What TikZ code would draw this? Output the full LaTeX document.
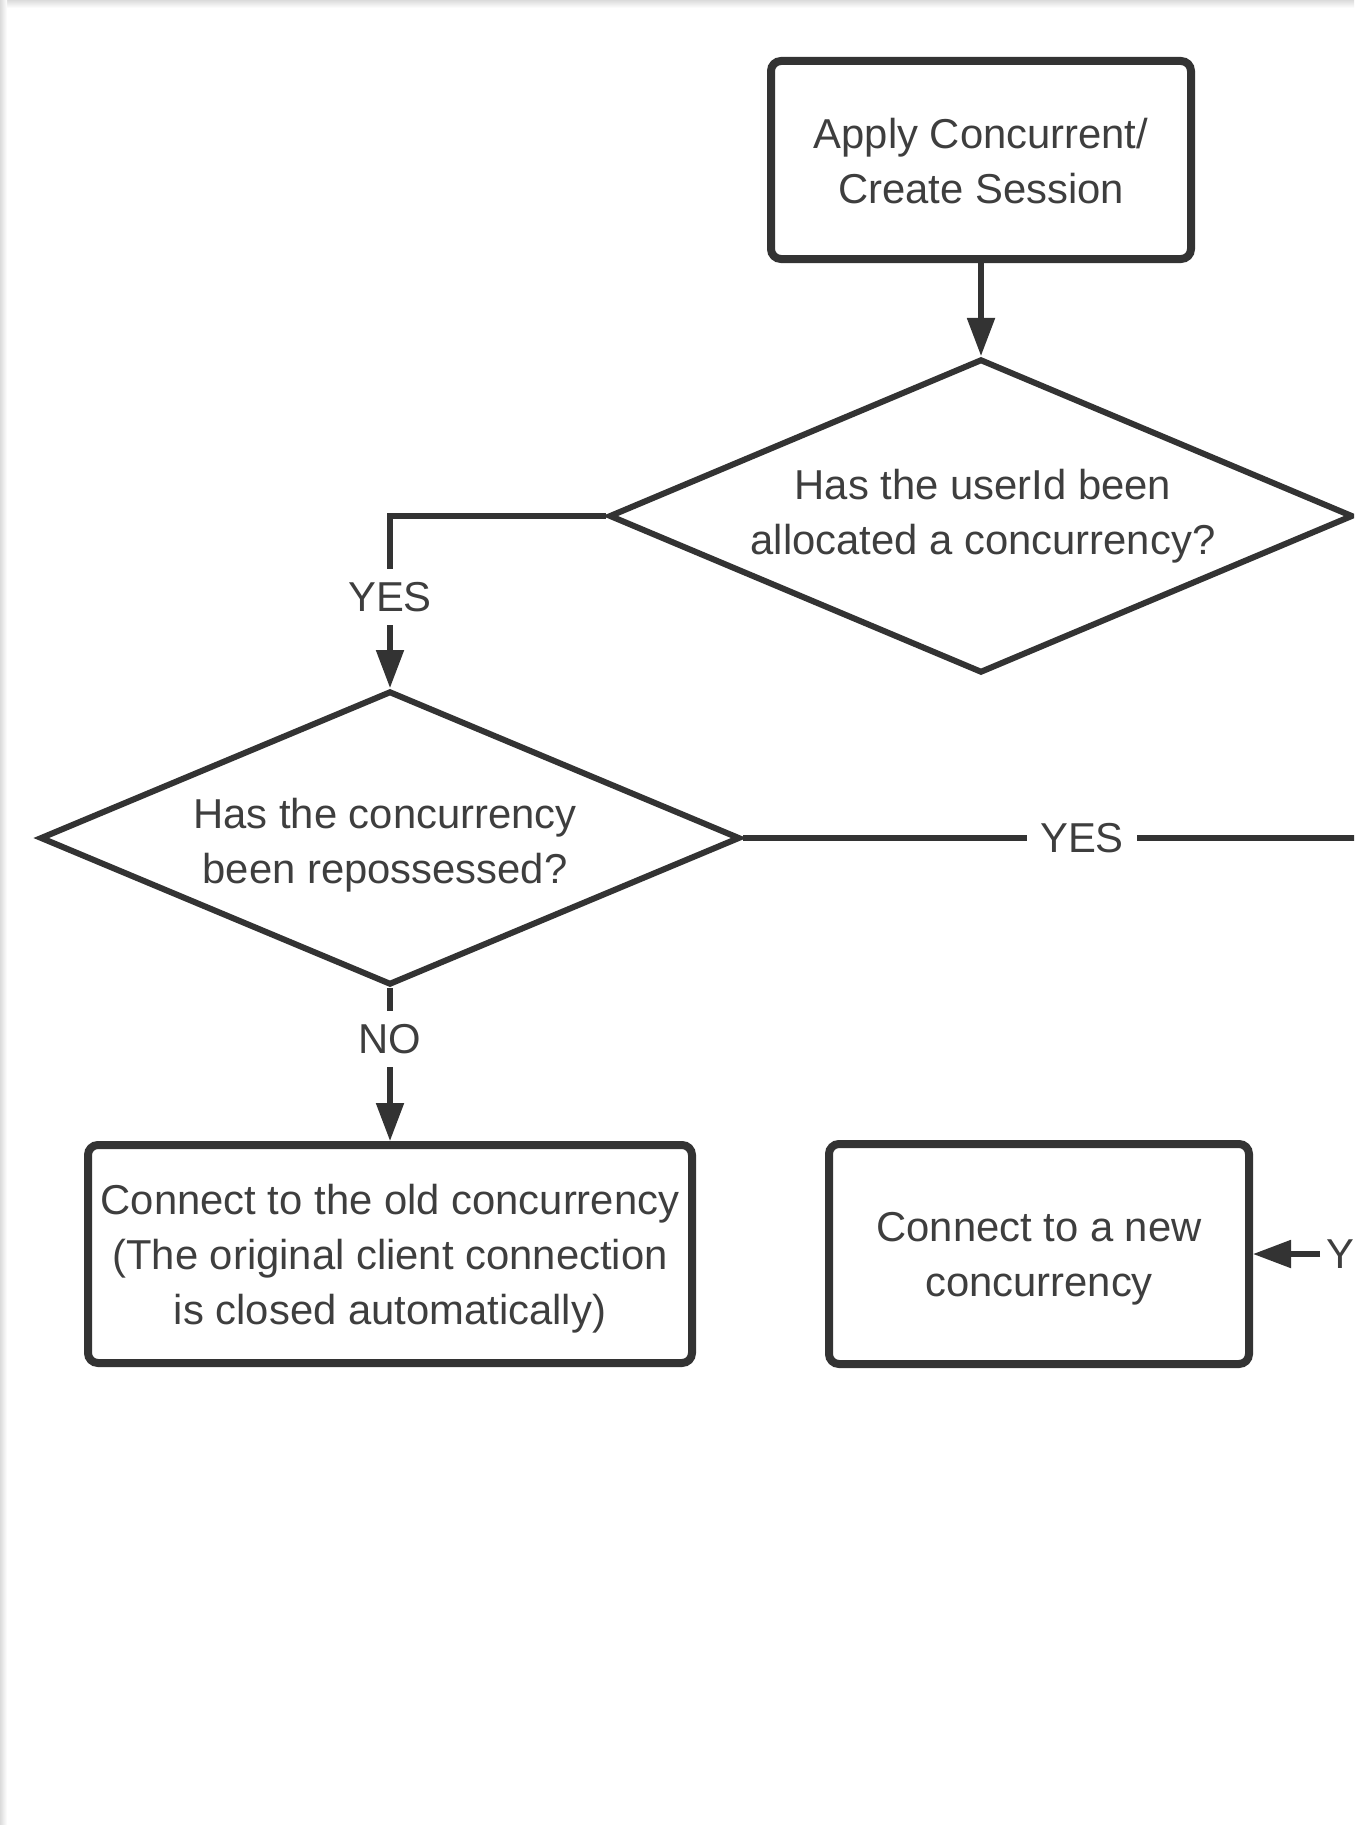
\documentclass[tikz,border=0pt]{standalone}
\usepackage{fontspec}
\setmainfont{Liberation Sans}
\usetikzlibrary{shapes.geometric,arrows.meta}
\definecolor{ln}{HTML}{333333}
\definecolor{tx}{HTML}{3E3E3E}
\newcommand\flowfont{\fontsize{20.9}{27.5}\selectfont}
\begin{document}
\begin{tikzpicture}[x=0.5pt,y=-0.5pt,
  procbox/.style={draw=ln, line width=4pt, rounded corners=5pt, inner sep=0pt},
  decision/.style={draw=ln, line width=3pt, diamond, inner sep=0pt},
  txt/.style={align=center, text=tx, font=\flowfont, inner sep=0pt},
  conn/.style={draw=ln, line width=2.6pt},
  arr/.style={conn, -{Triangle[length=19pt,width=13.5pt]}},
  lbl/.style={fill=white, text=tx, font=\flowfont, inner sep=6.5pt}]
\useasboundingbox (0,0) rectangle (1369,1825);
\fill[white] (0,0) rectangle (1369,1825);
\shade[top color=black!14, bottom color=white] (0,0) rectangle (1354,8);
\shade[left color=black!14, right color=white] (0,0) rectangle (7,1825);
\begin{scope}
\clip (7,8) rectangle (1354,1825);
\node[procbox, minimum width=210pt, minimum height=99pt] (b1) at (981,160) {};
\node[txt] (b1t) at ([yshift=-0.5pt]b1.center) {Apply Concurrent/\\Create Session};
\node[decision, minimum width=372pt, minimum height=157pt] (d1) at (981,516) {};
\node[txt] (d1t) at ([xshift=1pt]d1.center) {Has the userId been\\allocated a concurrency?};
\node[decision, minimum width=350pt, minimum height=147pt] (d2) at (390,838) {};
\node[txt] (d2t) at ([xshift=-2.5pt,yshift=-3.5pt]d2.center) {Has the concurrency\\been repossessed?};
\node[procbox, minimum width=302pt, minimum height=109pt] (b2) at (390,1254) {};
\node[txt] (b2t) at ([yshift=-2.5pt]b2.center) {Connect to the old concurrency\\(The original client connection\\is closed automatically)};
\node[procbox, minimum width=210pt, minimum height=110pt] (b3) at (1039,1254) {};
\node[txt] (b3t) at ([yshift=-2.5pt]b3.center) {Connect to a new\\concurrency};
\coordinate (offR) at (1420,838);
\coordinate (y3s) at (1320,1254);

\draw[arr] (b1) -- (d1);
\draw[arr] (d1.west) -| (d2.north);
\node[lbl] (yesA) at (390,597) {YES};
\draw[conn] (d2.east) -- (offR);
\node[lbl] (yesB) at (1082,838) {YES};
\draw[arr] (d2.south) -- (d2.south |- b2.north);
\node[lbl] (noA) at (390,1039) {NO};
\draw[arr] (y3s) -- (b3.east);
\node[txt, anchor=west] (yesC) at (1326,1254) {YES};
\end{scope}
\end{tikzpicture}
\end{document}
